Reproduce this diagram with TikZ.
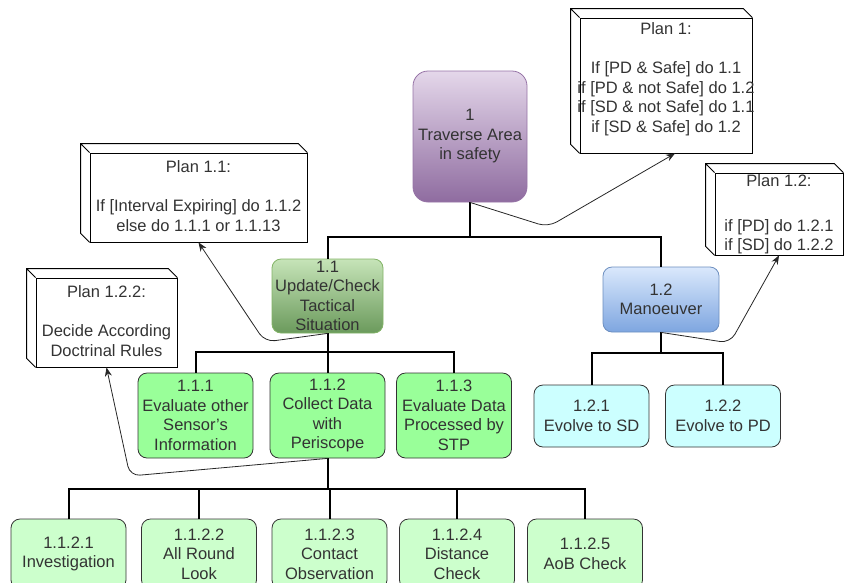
\documentclass[tikz,border=0pt]{standalone}
\usepackage{fontspec}
\setmainfont{Liberation Sans}
\usetikzlibrary{positioning,arrows.meta}

\definecolor{txtgray}{HTML}{333333}
\definecolor{goaltop}{HTML}{E4D7EA}
\definecolor{goalbot}{HTML}{8F6CA0}
\definecolor{goalline}{HTML}{9673A6}
\definecolor{sittop}{HTML}{C6E4B8}
\definecolor{sitbot}{HTML}{6B9A5C}
\definecolor{sitline}{HTML}{82B366}
\definecolor{mantop}{HTML}{DAE8FC}
\definecolor{manbot}{HTML}{7EA6E0}
\definecolor{manline}{HTML}{6C8EBF}
\definecolor{subgreen}{HTML}{99FF99}
\definecolor{leafgreen}{HTML}{CCFFCC}
\definecolor{leafcyan}{HTML}{CCFFFF}

\newcommand\diagfont{\fontsize{16.5}{19.5}\selectfont}

\tikzset{
  task/.style={draw=black!80, line width=0.8pt, rounded corners=9pt, align=center,
    inner sep=0pt, text=txtgray, font=\diagfont, minimum width=115pt},
  plan/.style={draw=black, line width=0.8pt, inner sep=0pt},
  plantext/.style={align=center, inner sep=0pt, text=txtgray, font=\diagfont},
  tree/.style={line width=2pt, black},
  planarrow/.style={draw=black!85, line width=0.8pt, rounded corners=10pt,
    -{Stealth[length=9pt,width=7pt]}}
}

\begin{document}
\begin{tikzpicture}[x=1pt,y=-1pt]
  \path[use as bounding box] (0,0) rectangle (845,582);

  % goal and sub-tasks
  \node[task, top color=goaltop, bottom color=goalbot, draw=goalline, rounded corners=15pt,
    minimum width=114pt, minimum height=131pt] (n1) at (470,136.5) {1\\Traverse Area\\in safety};
  \node[task, top color=sittop, bottom color=sitbot, draw=sitline,
    minimum width=111pt, minimum height=74pt] (n11) at (327.5,296) {1.1\\Update/Check\\Tactical\\Situation};
  \node[task, top color=mantop, bottom color=manbot, draw=manline,
    minimum width=116pt, minimum height=65pt] (n12) at (661,299.5) {1.2\\Manoeuver};

  \node[task, fill=subgreen, minimum height=85pt] (n111) at (195.5,415.5) {1.1.1\\Evaluate other\\Sensor's\\Information};
  \node[task, fill=subgreen, minimum height=85pt] (n112) at (327.5,415.5) {1.1.2\\Collect Data\\with\\Periscope};
  \node[task, fill=subgreen, minimum height=85pt] (n113) at (454,415.5) {1.1.3\\Evaluate Data\\Processed by\\STP};

  \node[task, fill=leafcyan, minimum height=62pt] (n121) at (591.5,416) {1.2.1\\Evolve to SD};
  \node[task, fill=leafcyan, minimum height=62pt] (n122) at (723,416) {1.2.2\\Evolve to PD};

  \node[task, fill=leafgreen, minimum height=70pt] (n1121) at (68.5,554) {1.1.2.1\\Investigation};
  \node[task, fill=leafgreen, minimum height=70pt] (n1122) at (199,554) {1.1.2.2\\All Round\\Look};
  \node[task, fill=leafgreen, minimum height=70pt] (n1123) at (329.5,554) {1.1.2.3\\Contact\\Observation};
  \node[task, fill=leafgreen, minimum height=70pt] (n1124) at (457,554) {1.1.2.4\\Distance\\Check};
  \node[task, fill=leafgreen, minimum height=70pt] (n1125) at (585,554) {1.1.2.5\\AoB Check};

  % plans
  \node[plan, minimum width=172pt, minimum height=135pt] (p1) at (666,85.5) {};
  \node[plan, minimum width=217pt, minimum height=89pt] (p11) at (198.5,197.5) {};
  \node[plan, minimum width=128pt, minimum height=82pt] (p12) at (779,214) {};
  \node[plan, minimum width=141pt, minimum height=89pt] (p122) at (106.5,322.5) {};
  \foreach \pl in {p1,p11,p12,p122}
    \draw[plan] (\pl.south west) -- ++(-9,-9) |- ([shift={(-9,-9)}]\pl.north east) -- (\pl.north east)
      (\pl.north west) -- ++(-9,-9);

  \node[plantext, below=5pt of p1.north] (p1t)
    {Plan 1:\\[19.5pt] If [PD \& Safe] do 1.1\\if [PD \& not Safe] do 1.2\\if [SD \& not Safe] do 1.1\\if [SD \& Safe] do 1.2};
  \node[plantext, below=8pt of p11.north] (p11t)
    {Plan 1.1:\\[19.5pt]If [Interval Expiring] do 1.1.2\\else do 1.1.1 or 1.1.13};
  \node[plantext, below=2pt of p12.north] (p12t)
    {Plan 1.2:\\[25pt]if [PD] do 1.2.1\\if [SD] do 1.2.2};
  \node[plantext, below=8pt of p122.north] (p122t)
    {Plan 1.2.2:\\[19.5pt]Decide According\\Doctrinal Rules};

  % hierarchy
  \draw[tree] (n1.south) -- ++(0,35) -| (n11.north);
  \draw[tree] (n1.south) -- ++(0,35) -| (n12.north);
  \foreach \c in {n111,n112,n113}
    \draw[tree] (n11.south) -- ++(0,19) -| (\c.north);
  \foreach \c in {n121,n122}
    \draw[tree] (n12.south) -- ++(0,21) -| (\c.north);
  \foreach \c in {n1121,n1122,n1123,n1124,n1125}
    \draw[tree] (n112.south) -- ++(0,31) -| (\c.north);

  % links to plans
  \draw[planarrow] (n1.south) -- (548,227) -- ([xshift=9pt]p1.south);
  \draw[planarrow] (n11.south) -- (265,342) -- (p11.south);
  \draw[planarrow] (n12.south) -- (730,343) -- (p12.south);
  \draw[planarrow] (n112.south) -- (130,476) -- (p122.south);
\end{tikzpicture}
\end{document}
